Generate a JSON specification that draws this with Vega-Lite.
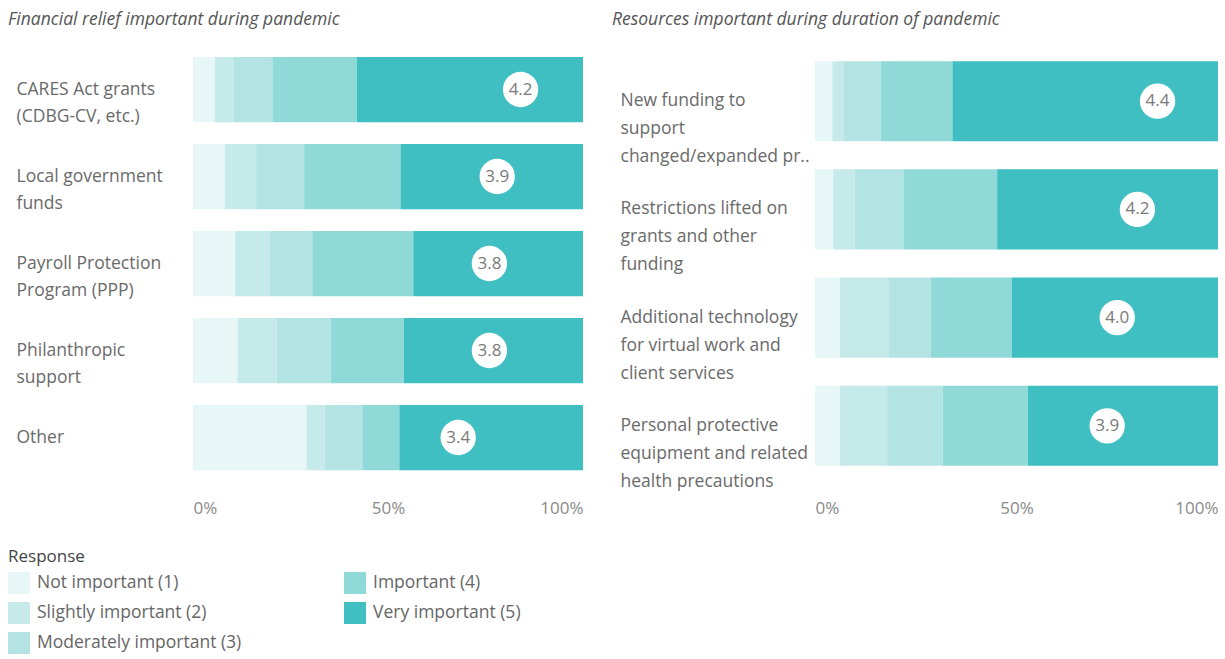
{
  "$schema": "https://vega.github.io/schema/vega-lite/v6.json",
  "background": "white",
  "padding": {"left": 8, "top": 10, "right": 5, "bottom": 2},
  "config": {
    "font": "Open Sans",
    "view": {"stroke": null},
    "concat": {"spacing": 29},
    "axisY": {"labelAlign": "left", "labelBaseline": "middle", "ticks": false, "domain": false, "title": null, "labelFontSize": 17.5, "labelColor": "#6a6a6a", "labelLineHeight": 27, "labelLimit": 0, "labelExpr": "split(' ' + datum.label, '|')"},
    "axisX": {"ticks": false, "domain": false, "grid": false, "title": null, "labelFontSize": 17, "labelColor": "#8a8a8a", "labelPadding": 19, "labelFlush": true, "labelExpr": "datum.value + '%'"},
    "title": {"anchor": "start", "frame": "bounds", "fontStyle": "italic", "fontWeight": "normal", "fontSize": 17.5, "color": "#555555", "dx": -8, "offset": 18}
  },
  "datasets": {
    "financial": [
      {"item": "CARES Act grants|(CDBG-CV, etc.)", "response": "Not important (1)", "code": 1, "pct": 5.6},
      {"item": "CARES Act grants|(CDBG-CV, etc.)", "response": "Slightly important (2)", "code": 2, "pct": 4.9},
      {"item": "CARES Act grants|(CDBG-CV, etc.)", "response": "Moderately important (3)", "code": 3, "pct": 10.0},
      {"item": "CARES Act grants|(CDBG-CV, etc.)", "response": "Important (4)", "code": 4, "pct": 21.5},
      {"item": "CARES Act grants|(CDBG-CV, etc.)", "response": "Very important (5)", "code": 5, "pct": 58.0},
      {"item": "Local government|funds", "response": "Not important (1)", "code": 1, "pct": 8.2},
      {"item": "Local government|funds", "response": "Slightly important (2)", "code": 2, "pct": 8.0},
      {"item": "Local government|funds", "response": "Moderately important (3)", "code": 3, "pct": 12.3},
      {"item": "Local government|funds", "response": "Important (4)", "code": 4, "pct": 24.7},
      {"item": "Local government|funds", "response": "Very important (5)", "code": 5, "pct": 46.8},
      {"item": "Payroll Protection|Program (PPP)", "response": "Not important (1)", "code": 1, "pct": 10.8},
      {"item": "Payroll Protection|Program (PPP)", "response": "Slightly important (2)", "code": 2, "pct": 8.9},
      {"item": "Payroll Protection|Program (PPP)", "response": "Moderately important (3)", "code": 3, "pct": 10.9},
      {"item": "Payroll Protection|Program (PPP)", "response": "Important (4)", "code": 4, "pct": 25.9},
      {"item": "Payroll Protection|Program (PPP)", "response": "Very important (5)", "code": 5, "pct": 43.5},
      {"item": "Philanthropic|support", "response": "Not important (1)", "code": 1, "pct": 11.4},
      {"item": "Philanthropic|support", "response": "Slightly important (2)", "code": 2, "pct": 10.1},
      {"item": "Philanthropic|support", "response": "Moderately important (3)", "code": 3, "pct": 13.8},
      {"item": "Philanthropic|support", "response": "Important (4)", "code": 4, "pct": 18.8},
      {"item": "Philanthropic|support", "response": "Very important (5)", "code": 5, "pct": 45.9},
      {"item": "Other", "response": "Not important (1)", "code": 1, "pct": 29.1},
      {"item": "Other", "response": "Slightly important (2)", "code": 2, "pct": 4.7},
      {"item": "Other", "response": "Moderately important (3)", "code": 3, "pct": 9.6},
      {"item": "Other", "response": "Important (4)", "code": 4, "pct": 9.5},
      {"item": "Other", "response": "Very important (5)", "code": 5, "pct": 47.1}
    ],
    "financialMean": [
      {"item": "CARES Act grants|(CDBG-CV, etc.)", "mean": 4.2},
      {"item": "Local government|funds", "mean": 3.9},
      {"item": "Payroll Protection|Program (PPP)", "mean": 3.8},
      {"item": "Philanthropic|support", "mean": 3.8},
      {"item": "Other", "mean": 3.4}
    ],
    "resources": [
      {"item": "New funding to|support|changed/expanded pr..", "response": "Not important (1)", "code": 1, "pct": 4.3},
      {"item": "New funding to|support|changed/expanded pr..", "response": "Slightly important (2)", "code": 2, "pct": 2.7},
      {"item": "New funding to|support|changed/expanded pr..", "response": "Moderately important (3)", "code": 3, "pct": 9.3},
      {"item": "New funding to|support|changed/expanded pr..", "response": "Important (4)", "code": 4, "pct": 17.8},
      {"item": "New funding to|support|changed/expanded pr..", "response": "Very important (5)", "code": 5, "pct": 65.9},
      {"item": "Restrictions lifted on|grants and other|funding", "response": "Not important (1)", "code": 1, "pct": 4.5},
      {"item": "Restrictions lifted on|grants and other|funding", "response": "Slightly important (2)", "code": 2, "pct": 5.4},
      {"item": "Restrictions lifted on|grants and other|funding", "response": "Moderately important (3)", "code": 3, "pct": 12.2},
      {"item": "Restrictions lifted on|grants and other|funding", "response": "Important (4)", "code": 4, "pct": 23.1},
      {"item": "Restrictions lifted on|grants and other|funding", "response": "Very important (5)", "code": 5, "pct": 54.8},
      {"item": "Additional technology|for virtual work and|client services", "response": "Not important (1)", "code": 1, "pct": 6.2},
      {"item": "Additional technology|for virtual work and|client services", "response": "Slightly important (2)", "code": 2, "pct": 12.0},
      {"item": "Additional technology|for virtual work and|client services", "response": "Moderately important (3)", "code": 3, "pct": 10.5},
      {"item": "Additional technology|for virtual work and|client services", "response": "Important (4)", "code": 4, "pct": 20.1},
      {"item": "Additional technology|for virtual work and|client services", "response": "Very important (5)", "code": 5, "pct": 51.2},
      {"item": "Personal protective|equipment and related|health precautions", "response": "Not important (1)", "code": 1, "pct": 6.2},
      {"item": "Personal protective|equipment and related|health precautions", "response": "Slightly important (2)", "code": 2, "pct": 11.7},
      {"item": "Personal protective|equipment and related|health precautions", "response": "Moderately important (3)", "code": 3, "pct": 13.8},
      {"item": "Personal protective|equipment and related|health precautions", "response": "Important (4)", "code": 4, "pct": 21.1},
      {"item": "Personal protective|equipment and related|health precautions", "response": "Very important (5)", "code": 5, "pct": 47.2}
    ],
    "resourcesMean": [
      {"item": "New funding to|support|changed/expanded pr..", "mean": 4.4},
      {"item": "Restrictions lifted on|grants and other|funding", "mean": 4.2},
      {"item": "Additional technology|for virtual work and|client services", "mean": 4.0},
      {"item": "Personal protective|equipment and related|health precautions", "mean": 3.9}
    ]
  },
  "hconcat": [
    {
      "title": "Financial relief important during pandemic",
      "width": 390,
      "height": 435,
      "layer": [
        {
          "data": {"name": "financial"},
          "mark": {"type": "bar"},
          "encoding": {
            "y": {"field": "item", "type": "nominal", "sort": null, "scale": {"paddingInner": 0.25, "paddingOuter": 0.125}, "axis": {"labelPadding": 177}},
            "x": {"field": "pct", "type": "quantitative", "stack": "zero", "scale": {"domain": [0, 100]}, "axis": {"values": [0, 50, 100]}},
            "color": {
              "field": "response", "type": "nominal",
              "scale": {
                "domain": ["Not important (1)", "Slightly important (2)", "Moderately important (3)", "Important (4)", "Very important (5)"],
                "range": ["#e7f6f6", "#c6eaea", "#b3e3e3", "#8fd9d8", "#3fbfc1"]
              },
              "legend": {
                "orient": "none", "legendX": -185, "legendY": 503,
                "title": "Response", "titleFontSize": 17, "titleFontWeight": "normal", "titleColor": "#444444", "titlePadding": 6,
                "labelFontSize": 17.5, "labelColor": "#666666", "labelOffset": 7, "labelLimit": 0,
                "symbolType": "square", "symbolSize": 484, "symbolStrokeWidth": 0, "symbolOpacity": 1,
                "columns": 2, "direction": "vertical", "columnPadding": 102, "rowPadding": 8
              }
            },
            "order": {"field": "code", "type": "quantitative"}
          }
        },
        {
          "data": {"name": "financialMean"},
          "mark": {"type": "circle", "size": 1250, "fill": "white", "opacity": 1},
          "encoding": {
            "y": {"field": "item", "type": "nominal", "sort": null},
            "x": {"field": "mean", "type": "quantitative", "scale": {"domain": [0, 5]}, "axis": null}
          }
        },
        {
          "data": {"name": "financialMean"},
          "mark": {"type": "text", "fontSize": 17, "color": "#7a7a7a"},
          "encoding": {
            "y": {"field": "item", "type": "nominal", "sort": null},
            "x": {"field": "mean", "type": "quantitative", "scale": {"domain": [0, 5]}, "axis": null},
            "text": {"field": "mean", "type": "quantitative", "format": ".1f"}
          }
        }
      ],
      "resolve": {"scale": {"x": "independent"}}
    },
    {
      "title": "Resources important during duration of pandemic",
      "width": 403,
      "height": 435,
      "layer": [
        {
          "data": {"name": "resources"},
          "mark": {"type": "bar"},
          "encoding": {
            "y": {"field": "item", "type": "nominal", "sort": null, "scale": {"paddingInner": 0.26, "paddingOuter": 0.14}, "axis": {"labelPadding": 195, "labelLineHeight": 28}},
            "x": {"field": "pct", "type": "quantitative", "stack": "zero", "scale": {"domain": [0, 100]}, "axis": {"values": [0, 50, 100]}},
            "color": {"field": "response", "type": "nominal"},
            "order": {"field": "code", "type": "quantitative"}
          }
        },
        {
          "data": {"name": "resourcesMean"},
          "mark": {"type": "circle", "size": 1250, "fill": "white", "opacity": 1},
          "encoding": {
            "y": {"field": "item", "type": "nominal", "sort": null},
            "x": {"field": "mean", "type": "quantitative", "scale": {"domain": [1, 5]}, "axis": null}
          }
        },
        {
          "data": {"name": "resourcesMean"},
          "mark": {"type": "text", "fontSize": 17, "color": "#7a7a7a"},
          "encoding": {
            "y": {"field": "item", "type": "nominal", "sort": null},
            "x": {"field": "mean", "type": "quantitative", "scale": {"domain": [1, 5]}, "axis": null},
            "text": {"field": "mean", "type": "quantitative", "format": ".1f"}
          }
        }
      ],
      "resolve": {"scale": {"x": "independent"}}
    }
  ],
  "resolve": {"scale": {"color": "shared"}}
}
